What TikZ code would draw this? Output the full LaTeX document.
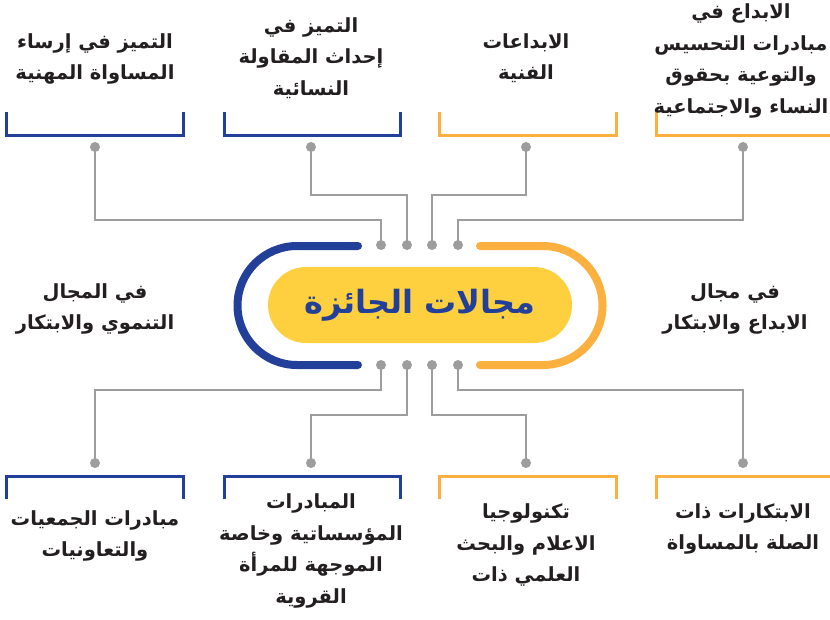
\documentclass[tikz,border=0pt]{standalone}
\usepackage{fontspec}
\newfontfamily\arabicfont[Script=Arabic]{DejaVu Sans}
\TeXXeTstate=1
\newcommand{\artxt}[1]{{\arabicfont\bfseries\beginR #1\endR}}
\definecolor{mblue}{HTML}{22409A}
\definecolor{morange}{HTML}{FBB040}
\definecolor{myellow}{HTML}{FECF3E}
\definecolor{mgray}{HTML}{9D9D9D}
\definecolor{mtext}{HTML}{231F20}
\begin{document}
\begin{tikzpicture}[x=1pt,y=-1pt,
  lbl/.style={text=mtext, align=center, font=\fontsize{19.5}{31.5}\selectfont, inner sep=0pt},
  dot/.style={circle, fill=mgray, inner sep=0pt, minimum size=10pt},
  conn/.style={draw=mgray, line width=2.6pt},
  brb/.style={draw=mblue, line width=3pt},
  bro/.style={draw=morange, line width=3pt}]
\useasboundingbox (0,0) rectangle (830,619);
% brackets
\draw[brb] (6,112) |- (183,135) -- (183,112);
\draw[brb] (224,112) |- (400,135) -- (400,112);
\draw[bro] (439,112) |- (616,135) -- (616,112);
\draw[bro] (656,112) |- (835,135);
\draw[brb] (6,499) |- (183,476) -- (183,499);
\draw[brb] (224,499) |- (400,476) -- (400,499);
\draw[bro] (439,499) |- (616,476) -- (616,499);
\draw[bro] (656,499) |- (835,476);
% dots
\node[dot] (t1) at (95,147) {};
\node[dot] (t2) at (311,147) {};
\node[dot] (t3) at (526,147) {};
\node[dot] (t4) at (743,147) {};
\node[dot] (c1) at (381,245) {};
\node[dot] (c2) at (407,245) {};
\node[dot] (c3) at (432,245) {};
\node[dot] (c4) at (458,245) {};
\node[dot] (d1) at (381,365) {};
\node[dot] (d2) at (407,365) {};
\node[dot] (d3) at (432,365) {};
\node[dot] (d4) at (458,365) {};
\node[dot] (b1) at (95,463) {};
\node[dot] (b2) at (311,463) {};
\node[dot] (b3) at (526,463) {};
\node[dot] (b4) at (743,463) {};
% connectors
\draw[conn] (t1.center) -- (t1 |- 0,220) -| (c1.center);
\draw[conn] (t2.center) -- (t2 |- 0,195) -| (c2.center);
\draw[conn] (t3.center) -- (t3 |- 0,195) -| (c3.center);
\draw[conn] (t4.center) -- (t4 |- 0,220) -| (c4.center);
\draw[conn] (d1.center) -- (d1 |- 0,390) -| (b1.center);
\draw[conn] (d2.center) -- (d2 |- 0,415) -| (b2.center);
\draw[conn] (d3.center) -- (d3 |- 0,415) -| (b3.center);
\draw[conn] (d4.center) -- (d4 |- 0,390) -| (b4.center);
% stadium arcs
\draw[mblue, line width=8pt, line cap=round] (358,246) -- (297,246) arc[start angle=270, end angle=90, radius=59.5] -- (358,365);
\draw[morange, line width=8pt, line cap=round] (480,246) -- (543,246) arc[start angle=270, end angle=450, radius=59.5] -- (480,365);
% title
\node[fill=myellow, rounded corners=38pt, minimum width=304pt, minimum height=76pt, text=mblue, font=\fontsize{32}{32}\selectfont] (title) at (420,305) {\artxt{مجالات الجائزة}};
% labels
\node[lbl] (l1) at (95,59) {\artxt{التميز في إرساء}\\\artxt{المساواة المهنية}};
\node[lbl] (l2) at (311,58) {\artxt{التميز في}\\\artxt{إحداث المقاولة}\\\artxt{النسائية}};
\node[lbl] (l3) at (526,58) {\artxt{الابداعات}\\\artxt{الفنية}};
\node[lbl] (l4) at (741,61) {\artxt{الابداع في}\\\artxt{مبادرات التحسيس}\\\artxt{والتوعية بحقوق}\\\artxt{النساء والاجتماعية}};
\node[lbl] (m1) at (95,309) {\artxt{في المجال}\\\artxt{التنموي والابتكار}};
\node[lbl] (m2) at (735,309) {\artxt{في مجال}\\\artxt{الابداع والابتكار}};
\node[lbl] (r1) at (95,536) {\artxt{مبادرات الجمعيات}\\\artxt{والتعاونيات}};
\node[lbl] (r2) at (311,551) {\artxt{المبادرات}\\\artxt{المؤسساتية وخاصة}\\\artxt{الموجهة للمرأة}\\\artxt{القروية}};
\node[lbl] (r3) at (526,545) {\artxt{تكنولوجيا}\\\artxt{الاعلام والبحث}\\\artxt{العلمي ذات}};
\node[lbl] (r4) at (743,529) {\artxt{الابتكارات ذات}\\\artxt{الصلة بالمساواة}};
\end{tikzpicture}
\end{document}
